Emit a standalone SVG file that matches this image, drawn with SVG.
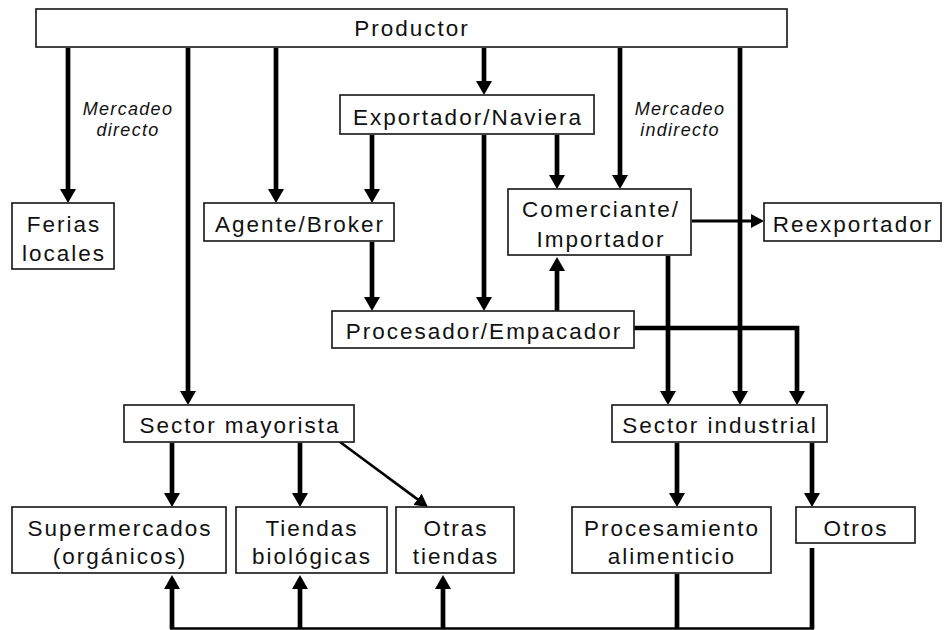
<svg xmlns="http://www.w3.org/2000/svg" width="945" height="630" viewBox="0 0 945 630">
<style>
.box{fill:#fff;stroke:#222;stroke-width:1.7}
.t{font-family:"Liberation Sans",Arial,sans-serif;font-size:22.5px;letter-spacing:2px;fill:#111;text-anchor:middle}
.i{font-family:"Liberation Sans",Arial,sans-serif;font-size:18px;font-style:italic;letter-spacing:1.3px;fill:#111;text-anchor:middle}
.c{fill:none;stroke:#000;stroke-width:4.7}
.cs{fill:none;stroke:#000;stroke-width:3.2}
.cd{fill:none;stroke:#000;stroke-width:2.6}
.cb{fill:none;stroke:#000;stroke-width:2.4}
</style>
<defs>
<marker id="ah" markerUnits="userSpaceOnUse" markerWidth="15" markerHeight="16" refX="1" refY="8" orient="auto">
<path d="M0,0 L14,8 L0,16 z" fill="#000"/>
</marker>
<marker id="ahs" markerUnits="userSpaceOnUse" markerWidth="14" markerHeight="14" refX="1" refY="7" orient="auto">
<path d="M0,0 L13,7 L0,14 z" fill="#000"/>
</marker>
</defs>
<rect width="945" height="630" fill="#fff"/>
<g id="connectors">
<line class="c" x1="68" y1="48" x2="68" y2="190" marker-end="url(#ah)"/>
<line class="c" x1="188" y1="48" x2="188" y2="392" marker-end="url(#ah)"/>
<line class="c" x1="276" y1="48" x2="276" y2="190" marker-end="url(#ah)"/>
<line class="c" x1="484" y1="48" x2="484" y2="82" marker-end="url(#ah)"/>
<line class="c" x1="620" y1="48" x2="620" y2="176" marker-end="url(#ah)"/>
<line class="c" x1="372" y1="135" x2="372" y2="190" marker-end="url(#ah)"/>
<line class="c" x1="484" y1="135" x2="484" y2="298" marker-end="url(#ah)"/>
<line class="c" x1="557" y1="135" x2="557" y2="176" marker-end="url(#ah)"/>
<line class="c" x1="372" y1="242" x2="372" y2="298" marker-end="url(#ah)"/>
<line class="c" x1="557" y1="312" x2="557" y2="270" marker-end="url(#ah)"/>
<line class="cs" x1="692" y1="221" x2="752" y2="221" marker-end="url(#ahs)"/>
<line class="c" x1="668" y1="256" x2="668" y2="392" marker-end="url(#ah)"/>
<path class="c" d="M634,328 H797 V392" marker-end="url(#ah)"/>
<line class="c" x1="740" y1="48" x2="740" y2="392" marker-end="url(#ah)"/>
<line class="c" x1="172" y1="443" x2="172" y2="494" marker-end="url(#ah)"/>
<line class="c" x1="300" y1="443" x2="300" y2="494" marker-end="url(#ah)"/>
<line class="cd" x1="340" y1="442" x2="418.3" y2="499.9" marker-end="url(#ahs)"/>
<line class="c" x1="677" y1="443" x2="677" y2="494" marker-end="url(#ah)"/>
<line class="c" x1="812" y1="443" x2="812" y2="494" marker-end="url(#ah)"/>
<line class="c" x1="677" y1="574" x2="677" y2="629"/>
<line class="c" x1="812" y1="548" x2="812" y2="629"/>
<line class="cb" x1="170" y1="628.5" x2="814" y2="628.5"/>
<line class="c" x1="172" y1="629" x2="172" y2="588" marker-end="url(#ah)"/>
<line class="c" x1="300" y1="629" x2="300" y2="588" marker-end="url(#ah)"/>
<line class="c" x1="443" y1="629" x2="443" y2="588" marker-end="url(#ah)"/>
</g>
<g id="labels">
<text class="i" x="128" y="115">Mercadeo</text>
<text class="i" x="128" y="136">directo</text>
<text class="i" x="680" y="115">Mercadeo</text>
<text class="i" x="680" y="136">indirecto</text>
</g>
<g id="productor"><rect class="box" x="36" y="9" width="751" height="38"/><text class="t" x="412" y="36">Productor</text></g>
<g id="exportador"><rect class="box" x="340" y="95" width="254" height="39"/><text class="t" x="468" y="125">Exportador/Naviera</text></g>
<g id="ferias"><rect class="box" x="12" y="203" width="102" height="66"/><text class="t" x="64" y="232">Ferias</text><text class="t" x="64" y="261">locales</text></g>
<g id="agente"><rect class="box" x="204" y="203" width="190" height="38"/><text class="t" x="300" y="232">Agente/Broker</text></g>
<g id="comerciante"><rect class="box" x="508" y="189" width="183" height="66"/><text class="t" x="601" y="217">Comerciante/</text><text class="t" x="601" y="247">Importador</text></g>
<g id="reexportador"><rect class="box" x="764" y="203" width="177" height="38"/><text class="t" x="853" y="232">Reexportador</text></g>
<g id="procesador"><rect class="box" x="332" y="311" width="302" height="37"/><text class="t" x="484" y="339">Procesador/Empacador</text></g>
<g id="mayorista"><rect class="box" x="124" y="405" width="230" height="37"/><text class="t" x="240" y="433">Sector mayorista</text></g>
<g id="industrial"><rect class="box" x="612" y="405" width="215" height="37"/><text class="t" x="720" y="433">Sector industrial</text></g>
<g id="supermercados"><rect class="box" x="12" y="507" width="214" height="66"/><text class="t" x="120" y="536">Supermercados</text><text class="t" x="120" y="564">(orgánicos)</text></g>
<g id="tiendas"><rect class="box" x="236" y="507" width="151" height="66"/><text class="t" x="312" y="536">Tiendas</text><text class="t" x="312" y="564">biológicas</text></g>
<g id="otras"><rect class="box" x="396" y="507" width="118" height="66"/><text class="t" x="456" y="536">Otras</text><text class="t" x="456" y="564">tiendas</text></g>
<g id="procesamiento"><rect class="box" x="572" y="507" width="199" height="66"/><text class="t" x="672" y="536">Procesamiento</text><text class="t" x="672" y="564">alimenticio</text></g>
<g id="otros"><rect class="box" x="796" y="507" width="119" height="36"/><text class="t" x="856" y="536">Otros</text></g>
</svg>
